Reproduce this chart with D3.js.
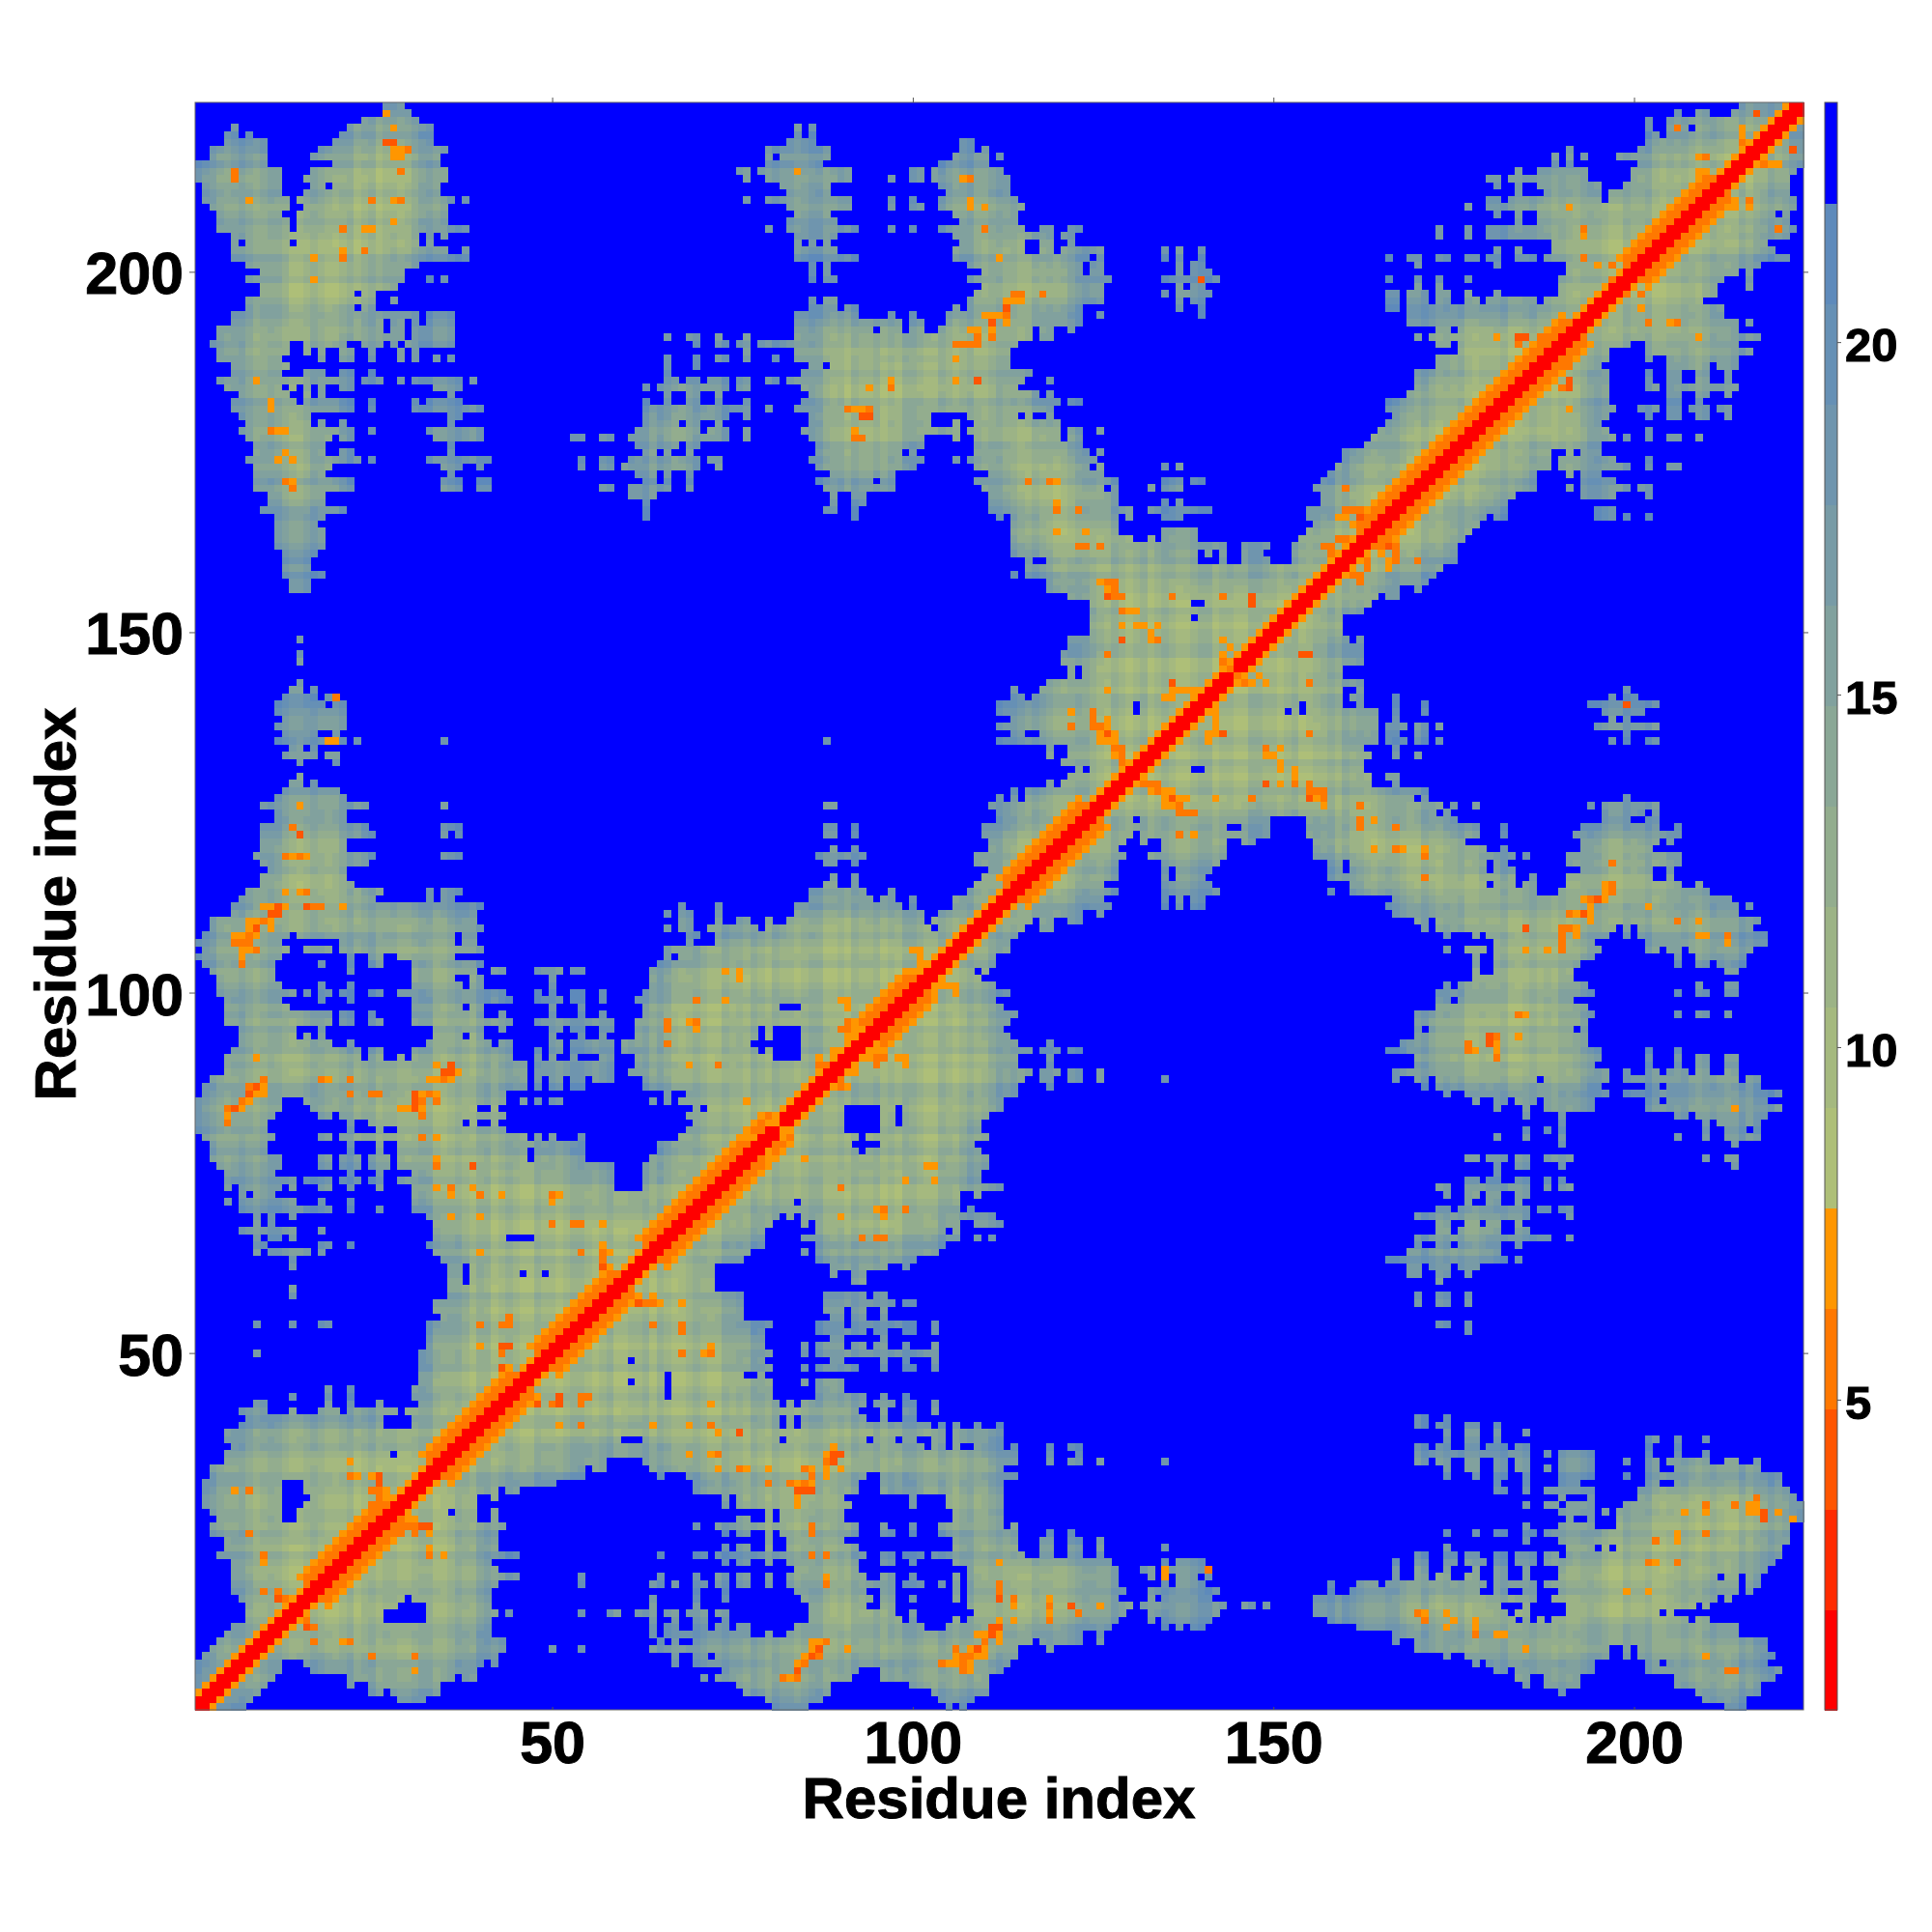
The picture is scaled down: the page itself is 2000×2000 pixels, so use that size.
<!DOCTYPE html>
<html><head><meta charset="utf-8"><style>html,body{margin:0;background:#fff}text{font-family:"Liberation Sans",Arial,sans-serif;font-weight:bold;fill:#000;stroke:#000;stroke-width:1px}</style>
<script src="https://cdn.jsdelivr.net/npm/d3@7"></script></head><body><div id="c"></div><script>
const residueCount=223;
const axisTicks=[50,100,150,200];
const legendTicks=[5,10,15,20];
const palette=['#ff0000','#ff2b00','#ff5500','#ff7800','#ff9600','#aebf78','#a5b97f','#9cb386','#93ad8e','#8aa796','#81a19e','#789ba6','#6f95ae','#6690b5','#5e8abb','#0000ff'];
const residueTone=("2110012101"+"2210012100"+"1201201100"+"1220012102"+"2012100211"+"0122101200"+"1120210012"+"1002110210"+"2110122001"+"0211201022"+"1002101200"+"1211002110"+"0122100210"+"1201210012"+"2011002211"+"0120011202"+"1100122100"+"2101120011"+"1200121101"+"0012210021"+"1200112101"+"2100201120"+"011").split('').map(Number);
const helixSegments=[[17,29],[34,46],[49,60],[64,81],[94,101],[114,125],[163,192],[200,212]];
// contact rows: residue y -> residue x ranges (x<y); "n+" runs up to the diagonal
const contactRows={
223:"27-29 215+",222:"27-30 206 209-210 214+",221:"24-31 202 205+",220:"6 22-33 84 86 202 205-207 209+",219:"5-6 8 21-33 84 86 202-203 205+",218:"5-10 20-33 83-86 107-108 202+",217:"3-10 18-35 80-88 107-108 110 191 201+",216:"3-10 17-34 80 82-88 106-110 112 189 191 193 198+",215:"1-10 20-34 80-87 104-110 189 191 201+",214:"1-12 17-35 76-77 79-91 100-101 103-112 184 187-193 200+",213:"1-12 16-35 77 80-91 97 100-101 103-113 180-181 183-193 200+",212:"2-12 17-18 20-34 82-88 104-113 181 184 187-195 199+",211:"2-12 16-34 83-88 105-113 184 188-195 197+",210:"2-13 15-36 38 77 80-91 97 100 104-114 180-181 183-195 197+",209:"3-13 16-35 83-91 97 100-101 104-115 177 180+",208:"4-12 15-35 84-88 106-114 181 184 187+",207:"4-13 15-35 83-89 107-114 184 187+",206:"4-13 15-38 80 83-92 97 100 104-115 118-119 122-123 173 177 180-186 187+",205:"6-31 33 35 84-89 106-119 121-122 173 177 180-186 187+",204:"6 8-13 15-31 33 84 86 88 107-115 118-119 122 189+",203:"6-35 38 84-89 106-115 118-119 121-126 135 137 140 181 184 189+",202:"6-38 84-92 106-124 126 135 137 140 166 169-170 173-174 177-178 180-181 184-186 188+",201:"8-31 86 88 108-123 125-126 137 139-140 170 181 191+",200:"10-29 86 88 110-123 125-126 137 139-141 191+",199:"8-29 33 35 86 88-89 108-127 135-142 166 170 173 177 190+",198:"10-28 110-126 137 139-140 170 173 190+",197:"10-22 24-25 109-126 135 137-141 166-167 169-171 173-174 177 181 190+",196:"8-25 28 86 88-89 108-126 137 139-140 166-167 169-171 173-174 177-178 180-186 188+",195:"8-22 24-25 86-89 91-92 106 108-123 137 140 166-167 169+",194:"6-31 33-36 84-92 97 100 105-123 126 140 169+",193:"6-26 28-29 31 33-36 84-98 100-101 105-123 169+",192:"4-26 28-29 31-36 84-94 96-98 100-101 104-116 118-119 122 173-174 176+",191:"4-29 31-36 66 69-70 73 77 84-116 118-119 170 172+",190:"3-13 16-21 24-26 28 30-36 70 73-74 76-77 79-114 173-174 176+",189:"4-13 16 18 21-22 25 29 31 77 84-113 176+",188:"4-12 18 21-22 25 29 31 34 36 66 70 73-74 77 81 84-113 173+",187:"6-13 66 70 86-87 89-113 173+",186:"6-12 16-18 21-22 25 66 85-116 170+",185:"4-22 24-26 29 31-37 39 66-67 69-70 72-74 76-77 80-81 83-115 119 170+",184:"5-12 14 16 18 21-22 34-37 63 65-74 76-77 85-114 170+",183:"7-13 16 18 36 66 69-70 73 86-117 119 169+",182:"6-14 16-22 25 31 33-37 63 66 69-70 73 77 85-120 122-123 166+",181:"6-22 25 31-40 63-77 80 84-119 166+",180:"7-16 36-37 63-74 77 86-102 108-114 116 119 167+",179:"8-16 18 21 36 63-67 69-70 73 86-102 106 109-120 166+",178:"7-22 25 33-40 62-70 72-74 77 85-106 108-120 122-123 126 165+",177:"8-19 21-22 34-40 53-54 57-58 61-74 77 86-101 106 109-120 122-123 164+",176:"9-18 36 62-67 69-70 87-101 109-123 163+",175:"9-18 21-22 36 63-64 66 69 87-98 100 109-124 126 160+",174:"8-23 25 33-41 54 57-58 61-70 72-73 86-101 106 108-125 160+",173:"9-19 35-37 40 54 57-58 60-70 73 87-100 109-124 126 135 137 159+",172:"9-18 36 62-64 66 69 89-97 111-126 158+",171:"9-22 35-37 40-41 63-64 66 69 87-94 96-97 109-128 135-137 139-140 157+",170:"9-22 35-37 40-41 57-58 61-66 69 88-97 110-126 128 133 135-137 156+",169:"11-18 61-64 89 92-93 111-128 157+",168:"11-18 63 89 92-93 111-128 135 137 157+",167:"10-21 63 88-89 92 111-130 133-141 155+",166:"12-18 63 92 112 114-128 130 135-137 155+",165:"12-17 114-128 156+",164:"12-18 114-128 135-139 155+",163:"12-18 114-130 133 135-139 154+",162:"12-18 114-143 146-149 153+",161:"13-17 114-139 141 143 146-148 153+",160:"13-16 116 119-139 143 146-149 153+",159:"13-16 116+",158:"13-18 114 116+",157:"14-16 119+",156:"14-16 119+",155:"122+",154:"125-138 141+",153:"125+",152:"125-138 140+",151:"125+",150:"125+",149:"15 122+",148:"122+",147:"15 121+",146:"15 121+",145:"122 124+",144:"122 124+",143:"15 119+",142:"14-15 17 114 118+",141:"13-17 19-20 114-115 117+",140:"12-18 20-21 112-130 132+",139:"12-21 112-130 132+",138:"13-21 114+",137:"12-21 112+",136:"13-17 20 114-115 118+",135:"12-21 23 35 88 112+",134:"14-15 17 119 122+",133:"13-17 19-20 119 122+",132:"15 20 121+",131:"123 125+",130:"15 122+",129:"14-15 17 119 121+",128:"13-20 114 116+",127:"12-21 112 114 116+",126:"10-24 35 88-89 111+",125:"12-21 112+",124:"12-21 112+",123:"10-24 35-37 88-89 92 110+",122:"10-25 35 37 88-89 92 110+",121:"10-21 111+",120:"10-21 89 92 111+",119:"9-25 35-37 87-93 109+",118:"10-24 88-89 92 109+",117:"11-21 111+",116:"10-21 89 92 110+",115:"10-22 88-89 92 109+",114:"8-26 33 35-37 86-93 97 108+",113:"7-25 33 35-36 86-94 96-97 100 106+",112:"6-40 68 73 84-98 100 106+",111:"6-39 66 68-69 73 84-101 104+",110:"3-39 68-69 73 76-77 80 83-101 103+",109:"3-40 66 68-69 72-78 80-102 104+",108:"2-13 15-36 38-39 69-70 73+",107:"1-12 21-36 38-39 69 73+",106:"2-13 16-19 21-40 66+",105:"1-12 22 25-26 29-36 66 68+",104:"2-11 18 22 25-26 31-40 65+",103:"3-11 22 31-39 42-43 48-51 53-54 64+",102:"4-11 31-36 39-40 50 64+",101:"4-12 18 22 31-37 39-40 50 64+",100:"4-14 16 18-19 21-22 25-26 29-43 48 50 53-54 57 63+",99:"5-12 18 22 31-44 48-51 53-54 57 62+",98:"5-13 31-37 39-40 50 54 63-81 85+",97:"5-19 21-22 25 31-40 43 50 54 57 63+",96:"5-19 21-22 25-26 31-44 48-58 62+",95:"7-14 18 34-40 43 50-51 53-54 57-58 62-78 80 85+",94:"7-14 16 18 34-37 39-40 50 54 57 62-78 80 85+",93:"7-19 22 33-41 43-44 50-51 53-58 60-77 85+",92:"6-23 25-26 31-44 48 50-51 53-58 60-78 80 85+",91:"5-23 25-26 29 31-44 48 50 53 57-58 62-80 85+",90:"5-46 48-58 62+",89:"5-46 48-58 61+",88:"3-46 48 50-51 53-54 56-58 63+",87:"2-46 48 50-51 53-54 63+",86:"2-43 66 69+",85:"1-12 16-43 46 48 50-51 64 66 68+",84:"1-12 17-39 42 70 72+",83:"1-11 18-19 21-43 69+",82:"1-10 22 25-37 39 42 70+",81:"1-10 22 26 29-43 69+",80:"2-11 18-19 21-46 48 50 54 68+",79:"3-10 22 26 29-54 65+",78:"3-10 22 26 29-46 48-54 65+",77:"3-12 18-19 21-23 25-27 29-46 48-54 64+",76:"4-12 18-19 21-23 25-27 29-58 63+",75:"5-11 22 26 31-58 63+",74:"5-14 16-19 21-23 25-26 29-58 63+",73:"5 7-12 14 18-19 22 26 31-58 63+",72:"7 9-11 31+",71:"5 7-14 18 22 31+",70:"7-19 22 26 31+",69:"9 11 14 33+",68:"9 11 34+",67:"7-14 18 34+",66:"9 11-12 14 34-43 48+",65:"9-10 18-19 22 33+",64:"9 11-16 18 34+",63:"14 35+",62:"14 36-37 39+",61:"36-37 39-45 47-48 50+",60:"36-37 39+",59:"14 36+",58:"14 36+",57:"34+",56:"34+",55:"35+",54:"9 14 18-19 33+",53:"33+",52:"33+",51:"33+",50:"9 32+",49:"32+",48:"32+",47:"32+",46:"32+",45:"19 22 31+",44:"14 19 22 31+",43:"9-10 19 22 26 32+",42:"7-10 14 18-20 22-28 30+",41:"8-26 31+",40:"7-26 31+",39:"5+",38:"5+",37:"6+",36:"5-27 29+",35:"5+",34:"3+",33:"3+",32:"2-12 16+",31:"2-12 16+",30:"2-12 17+",29:"2-12 16+",28:"3-12 15+",27:"4-12 15+",26:"3+",25:"3+",24:"5+",23:"5+",22:"4+",21:"6+",20:"6+",19:"6+",18:"6+",17:"6+",16:"7+",15:"8+",14:"8+",13:"8+",12:"6+",11:"5+",10:"4+",9:"3+",8:"2+",7:"1+",6:"1+",5:"1+",4:"1+",3:"1+",2:"1+",1:"1+"};
// short-distance contacts, as x y pairs
const close70="27 222 28 220 28 217 29 217 28 216 29 216 8 210 28 210 28 207 24 206 25 206 21 203 17 202 17 199 9 185 11 182 11 181 12 178 13 178 13 175 12 174 14 174 14 171 19 135 20 135 15 126 14 119 16 119 13 114 15 114 10 112 11 112 13 112 21 112 8 110 9 110 11 110 8 109 11 109 6 108 7 108 9 108 7 106 8 106 7 105 9 91 10 87 8 85 9 86 10 86 7 84 5 83 19 88 34 90 37 89 33 88 34 88 36 88 32 86 34 86 29 84 30 84 32 84 34 80 34 77 74 103 74 99 69 96 70 95 69 90 84 214 107 213 108 210 108 209 110 209 112 202 113 196 114 196 115 196 110 194 111 194 112 194 113 193 108 192 109 192 111 192 106 188 106 185 97 185 94 184 92 181 93 181 93 180 92 178 120 171 120 168 120 164 124 164 126 157 127 156 128 155 130 153 131 153 129 151 131 151 132 151 134 151 133 150 133 149 143 149 144 148 143 147 127 142 136 142 137 142 138 142 139 142 135 141 136 141 137 139 122 139 127 138 127 137 126 136 128 136 126 135 127 135 128 135 128 133 131 133 129 131 76 103 76 102 90 99 91 99 91 98 92 95 93 95 91 94 89 92 87 91 87 89 77 85 80 82 81 82 77 80 78 80 75 79 100 106 101 106 101 105 101 104 100 103 34 73 39 73 36 72 43 72 51 72 50 71 36 69 40 69 57 68 40 64 58 64 57 65 44 55 40 51 22 35 23 33 25 33 26 32 27 30 28 30 6 31 10 21 14 16 215 220 215 219 209 216 209 214 209 213 193 205 195 201 181 191 159 166 160 166 191 209".split(' ').map(Number);
const close56="28 218 30 217 29 214 6 214 6 213 25 210 29 210 21 206 21 202 24 203 11 178 13 171 14 170 20 141 14 123 15 122 13 119 15 119 16 114 17 112 18 112 10 110 8 108 6 107 7 107 8 107 9 106 7 104 10 88 8 87 7 85 5 84 5 82 18 88 22 88 22 86 25 86 26 86 35 88 33 86 34 85 32 85 32 83 32 80 34 76 39 76 70 99 66 96 70 96 66 95 66 93 73 90 108 213 110 206 114 197 115 197 118 197 113 194 109 191 111 191 106 190 107 190 108 190 109 190 97 184 91 181 94 181 92 177 93 177 116 171 119 171 120 167 123 167 123 162 124 162 126 162 127 157 128 157 128 156 128 155 129 155 136 155 143 155 129 153 134 149 143 146 144 145 127 147 122 137 125 139 125 138 125 137 126 137 128 134 129 134 129 133 129 132 91 96 90 95 91 95 87 90 88 90 80 83 76 79 36 73 50 72 40 72 53 68 54 68 50 68 54 64 57 64 57 63 40 54 43 54 44 54 44 55 43 50 25 31 26 31 25 29 26 30 8 31 8 25 10 22 10 17 12 17 13 16 22 33 206 220 215 218 210 216 193 206 193 202 197 201 197 199 184 190 187 191 160 170 160 167 161 167 162 167 157 162 158 162 158 161 159 163 160 163".split(' ').map(Number);
const close42="27 218 28 218 12 112 16 112 11 111 12 111 9 109 6 84 9 87 8 86 31 86 31 85 31 84 36 90 35 89 36 89 15 122 39 76 94 180 93 180 109 185 113 195 111 193 127 155 147 155 147 154 129 149 136 143 127 136 57 62 43 51 44 51 43 48 26 33 26 32 12 16 217 222 184 191 185 191 162 166 140 199".split(' ').map(Number);

const W=2000,H=2000;
const x=d3.scaleLinear().domain([0.5,residueCount+0.5]).range([202,1867]);
const y=d3.scaleLinear().domain([0.5,residueCount+0.5]).range([1770,106]);
const colorScale=d3.scaleQuantize().domain([0.6,23.4]).range(palette);
const barY=d3.scaleLinear().domain([0.6,23.4]).range([1770,106]);

const inHelix=m=>helixSegments.some(s=>m>=s[0]&&m<=s[1]);
const mask=d3.range(residueCount+2).map(()=>new Uint8Array(residueCount+2));
Object.entries(contactRows).forEach(([r,s])=>{r=+r;
  s.split(' ').forEach(t=>{let a,b;
    if(t.endsWith('+')){a=+t.slice(0,-1);b=r;}
    else if(t.includes('-')){[a,b]=t.split('-').map(Number);}
    else{a=b=+t;}
    for(let c=a;c<=Math.min(b,r);c++){mask[r][c]=1;mask[c][r]=1;}
  });
});
const R=6;
const dist=[];
for(let j=1;j<=residueCount;j++)for(let i=1;i<=j;i++){
  if(!mask[j][i])continue;
  let n=0,t=0;
  for(let a=j-R;a<=j+R;a++)for(let b=i-R;b<=i+R;b++){t++;if(a>=1&&a<=residueCount&&b>=1&&b<=residueCount)n+=mask[a][b];}
  const depth=n/t;
  let v=Math.min(18.5,23-12*depth)+(residueTone[i-1]+residueTone[j-1]-2)*1.2;
  v=Math.max(8.3,Math.min(21.9,v));
  const off=j-i,h=inHelix((i+j)/2);
  if(off<=1)v=1.3;
  else if(off===2)v=h?5.6:7;
  else if(off===3&&h)v=5.6;
  else if(off===4&&h)v=7;
  dist.push({i,j,v});
}
const byKey=new Map(dist.map(d=>[d.i*1000+d.j,d]));
const setClose=(arr,v)=>{for(let k=0;k<arr.length;k+=2){const a=arr[k],b=arr[k+1];const key=Math.min(a,b)*1000+Math.max(a,b);
  if(byKey.has(key))byKey.get(key).v=v;else{const d={i:Math.min(a,b),j:Math.max(a,b),v};dist.push(d);byKey.set(key,d);}}};
setClose(close70,7.0);setClose(close56,5.6);setClose(close42,4.2);

const svg=d3.select('#c').append('svg').attr('width',W).attr('height',H).attr('viewBox',`0 0 ${W} ${H}`).style('display','block');
svg.append('rect').attr('width',W).attr('height',H).attr('fill','#fff');
const pw=x(1.5)-x(0.5);
svg.append('rect').attr('x',x(0.5)).attr('y',y(residueCount+0.5)).attr('width',x(residueCount+0.5)-x(0.5)).attr('height',y(0.5)-y(residueCount+0.5)).attr('fill',colorScale(23));
const cells=[];
dist.forEach(d=>{cells.push({a:d.i,b:d.j,v:d.v});if(d.i!==d.j)cells.push({a:d.j,b:d.i,v:d.v});});
svg.append('g').attr('shape-rendering','crispEdges').selectAll('rect').data(cells).join('rect')
  .attr('x',d=>x(d.a-0.5)).attr('y',d=>y(d.b+0.5)).attr('width',pw+0.5).attr('height',pw+0.5).attr('fill',d=>colorScale(d.v));
svg.append('rect').attr('x',x(0.5)).attr('y',y(residueCount+0.5)).attr('width',x(residueCount+0.5)-x(0.5)).attr('height',y(0.5)-y(residueCount+0.5)).attr('fill','none').attr('stroke','#666').attr('stroke-width',1);

const style=(g,fs)=>{g.select('.domain').remove();g.selectAll('line').attr('stroke','#555').attr('stroke-width',1);g.selectAll('text').style('font-size',fs+'px');};
svg.append('g').attr('transform','translate(0,1770)').call(d3.axisBottom(x).tickValues(axisTicks).tickSize(-3).tickPadding(12)).call(style,61)
  .selectAll('text').attr('y',0).attr('dy',0).attr('transform','translate(0,55)');
svg.append('g').attr('transform','translate(202,0)').call(d3.axisLeft(y).tickValues(axisTicks).tickSize(6).tickPadding(6)).call(style,61)
  .selectAll('text').attr('transform','translate(0,3)');
svg.append('g').attr('transform','translate(0,106)').call(d3.axisTop(x).tickValues(axisTicks).tickSize(5).tickFormat('')).call(style,60);
svg.append('g').attr('transform','translate(1867,0)').call(d3.axisRight(y).tickValues(axisTicks).tickSize(5).tickFormat('')).call(style,60);

svg.append('text').attr('x',1034).attr('y',1882).attr('text-anchor','middle').style('font-size','60px').text('Residue index');
svg.append('text').attr('transform','translate(78,936) rotate(-90)').attr('text-anchor','middle').style('font-size','60px').text('Residue index');

svg.append('g').attr('shape-rendering','crispEdges').selectAll('rect').data(palette).join('rect')
  .attr('x',1889).attr('width',13)
  .attr('y',(c,k)=>barY(0.6+(k+1)*22.8/16)).attr('height',(c,k)=>barY(0.6+k*22.8/16)-barY(0.6+(k+1)*22.8/16)+0.5)
  .attr('fill',c=>c);
svg.append('rect').attr('x',1889).attr('y',106).attr('width',13).attr('height',1664).attr('fill','none').attr('stroke','#555').attr('stroke-width',1);
svg.append('g').attr('transform','translate(1902,0)').call(d3.axisRight(barY).tickValues(legendTicks).tickSize(4).tickPadding(4)).call(style,49)
  .selectAll('text').attr('transform','translate(0,4)');
</script></body></html>
